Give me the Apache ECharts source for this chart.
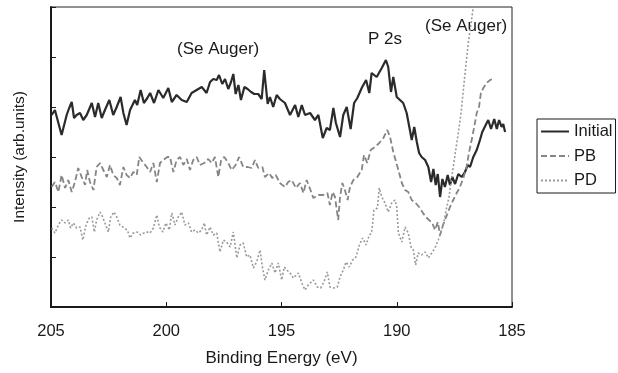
<!DOCTYPE html>
<html>
<head>
<meta charset="utf-8">
<script src="https://cdn.jsdelivr.net/npm/echarts@6/dist/echarts.min.js"></script>
<style>html,body{margin:0;padding:0;background:#fff;}#c{width:618px;height:373px;}</style>
</head>
<body>
<div id="c"></div>
<script>
// Binding energy (eV) and intensity (arb. units)
var initE = [204.97,204.83,204.54,204.32,204.21,204.10,204.00,203.89,203.74,203.60,
203.45,203.23,203.09,202.95,202.80,202.66,202.47,202.30,202.15,201.98,
201.86,201.72,201.57,201.36,201.26,201.11,200.97,200.82,200.70,200.53,
200.34,200.13,199.91,199.76,199.55,199.33,199.11,198.90,198.68,198.46,
198.25,198.10,197.96,197.81,197.71,197.57,197.45,197.31,197.19,197.09,
196.99,196.87,196.76,196.61,196.47,196.32,196.18,196.01,195.86,195.75,
195.60,195.50,195.36,195.21,195.07,194.85,194.63,194.41,194.27,194.12,
193.98,193.76,193.55,193.40,193.21,193.04,192.90,192.75,192.64,192.46,
192.32,192.17,192.00,191.85,191.71,191.52,191.33,191.19,191.09,190.87,
190.65,190.47,190.37,190.25,190.15,190.00,189.86,189.72,189.57,189.43,
189.35,189.24,189.13,189.03,188.92,188.77,188.63,188.51,188.41,188.31,
188.22,188.12,188.02,187.91,187.79,187.69,187.59,187.47,187.33,187.18,
187.04,186.92,186.82,186.68,186.53,186.39,186.29,186.14,186.03,185.91,
185.77,185.66,185.56,185.45,185.38,185.30];
var initV = [192,197,172,192,199,205,189,192,194,187,
192,204,190,204,189,197,207,192,200,210,
194,182,197,207,202,217,204,209,214,204,
217,209,219,205,212,207,205,214,217,220,
214,225,228,227,232,223,228,218,225,233,
213,222,207,220,218,215,213,213,208,237,
203,210,200,212,208,204,192,202,190,202,
192,194,187,192,169,179,177,199,184,170,
192,200,178,204,209,219,227,214,234,230,
239,247,240,215,230,210,207,204,194,177,
167,180,165,154,150,147,140,125,138,122,
133,110,128,120,132,122,130,123,133,130,
135,142,140,150,157,167,175,182,187,178,
188,178,187,180,183,175];

var pbE = [204.97,204.83,204.68,204.54,204.39,204.25,204.10,203.96,203.82,203.67,
203.52,203.43,203.31,203.16,203.02,202.87,202.73,202.58,202.44,202.30,
202.15,202.01,201.86,201.72,201.57,201.43,201.28,201.17,201.02,200.85,
200.70,200.56,200.41,200.27,200.13,199.95,199.84,199.69,199.55,199.40,
199.26,199.11,198.97,198.83,198.68,198.54,198.35,198.18,198.03,197.89,
197.74,197.62,197.48,197.31,197.16,196.99,196.84,196.66,196.47,196.29,
196.15,196.01,195.83,195.72,195.54,195.40,195.25,195.07,194.85,194.71,
194.56,194.37,194.20,194.05,193.91,193.79,193.62,193.40,193.19,193.01,
192.90,192.78,192.68,192.54,192.46,192.36,192.25,192.13,192.03,191.88,
191.71,191.52,191.42,191.28,191.13,190.94,190.76,190.58,190.41,190.29,
190.15,190.08,189.93,189.78,189.64,189.50,189.35,189.18,189.03,188.89,
188.74,188.60,188.46,188.34,188.22,188.12,188.02,187.91,187.79,187.69,
187.55,187.40,187.26,187.11,186.97,186.87,186.75,186.64,186.53,186.43,
186.35,186.24,186.10,185.95,185.81];
var pbV = [120,125,115,132,119,127,115,125,139,130,
122,137,125,117,140,144,137,130,142,132,
129,122,140,132,129,135,132,150,145,140,
135,144,125,144,147,150,150,135,147,150,
142,148,137,147,150,142,144,148,144,150,
130,147,150,144,137,142,150,140,140,139,
147,139,140,130,134,129,132,124,120,125,
127,119,124,114,127,120,109,112,112,114,
102,115,110,87,110,124,117,107,120,127,
130,137,152,144,157,160,164,169,177,170,
155,154,137,124,117,115,107,104,100,95,
90,87,84,77,85,72,80,87,94,100,
107,114,120,129,140,154,167,180,194,200,
214,219,224,227,228];

var pdE = [204.97,204.83,204.68,204.54,204.39,204.25,204.15,204.03,203.89,203.74,
203.62,203.48,203.34,203.23,203.12,203.02,202.87,202.76,202.66,202.51,
202.41,202.27,202.15,202.01,201.83,201.69,201.57,201.43,201.26,201.11,
200.97,200.82,200.70,200.56,200.41,200.30,200.15,200.01,199.87,199.76,
199.62,199.48,199.33,199.19,199.04,198.90,198.75,198.61,198.46,198.35,
198.25,198.10,197.96,197.81,197.67,197.52,197.38,197.23,197.09,196.94,
196.80,196.66,196.51,196.37,196.22,196.08,195.93,195.83,195.72,195.57,
195.42,195.28,195.14,194.99,194.88,194.77,194.63,194.49,194.27,194.12,
193.98,193.84,193.62,193.45,193.30,193.16,193.01,192.90,192.72,192.58,
192.46,192.32,192.20,192.06,191.91,191.77,191.62,191.48,191.33,191.19,
191.09,190.99,190.84,190.76,190.65,190.51,190.37,190.22,190.08,190.00,
189.93,189.78,189.64,189.50,189.38,189.28,189.18,189.07,188.92,188.77,
188.63,188.48,188.34,188.20,188.05,187.94,187.83,187.73,187.65,187.55,
187.44,187.33,187.21,187.11,187.01,186.90,186.78,186.68,186.60];
var pdV = [79,74,82,87,84,87,79,84,79,80,
67,82,89,90,75,87,95,90,84,75,
90,95,90,82,79,77,69,74,75,72,
74,75,74,79,92,80,75,84,77,94,
82,90,95,82,84,75,77,74,77,84,
72,80,72,74,55,67,65,60,75,49,
62,64,50,52,39,45,57,40,27,37,
44,34,44,27,40,37,34,29,34,24,
17,22,27,20,19,25,35,20,19,20,
30,37,45,40,47,50,62,69,62,72,
74,97,99,119,110,104,95,104,107,100,
74,65,80,74,60,57,42,54,52,55,
49,54,59,67,77,87,100,110,125,140,
157,174,194,217,240,263,283,300,317];

var seriesNames = ['Initial', 'PB', 'PD'];
var xTicks = [185, 190, 195, 200, 205];
var annotations = ['(Se Auger)', 'P 2s', '(Se Auger)'];

function pairs(xs, ys) {
  var out = [];
  var n = Math.min(xs.length, ys.length);
  for (var i = 0; i < n; i++) out.push([xs[i], ys[i]]);
  return out;
}

var FONT = '"Liberation Sans", Arial, Helvetica, sans-serif';
var chart = echarts.init(document.getElementById('c'), null, {renderer: 'canvas'});
chart.setOption({
  animation: false,
  backgroundColor: '#ffffff',
  grid: {left: 51, right: 106, top: 7, bottom: 66, show: true, borderColor: '#222', borderWidth: 1, backgroundColor: 'transparent'},
  xAxis: {
    type: 'value', inverse: true,
    min: xTicks[0], max: xTicks[xTicks.length - 1], interval: 5,
    name: 'Binding Energy (eV)', nameLocation: 'middle', nameGap: 43,
    nameTextStyle: {fontFamily: FONT, fontSize: 17, color: '#1a1a1a'},
    axisLine: {lineStyle: {color: '#1a1a1a', width: 2}},
    axisTick: {inside: true, length: 5, lineStyle: {color: '#1a1a1a', width: 1}},
    axisLabel: {margin: 16, fontFamily: FONT, fontSize: 16.5, color: '#1a1a1a'},
    splitLine: {show: false}
  },
  yAxis: {
    type: 'value', min: 0, max: 300, interval: 50,
    name: 'Intensity (arb.units)', nameLocation: 'middle', nameGap: 23, nameRotate: 90,
    nameTextStyle: {fontFamily: FONT, fontSize: 15.5, color: '#1a1a1a'},
    axisLine: {show: true, lineStyle: {color: '#1a1a1a', width: 2}},
    axisTick: {show: true, inside: true, length: 5, lineStyle: {color: '#1a1a1a', width: 1}},
    axisLabel: {show: false},
    splitLine: {show: false}
  },
  legend: {
    show: true,
    orient: 'vertical', left: 537, top: 119,
    padding: [4, 3, 4, 3], itemGap: 7.5, itemWidth: 28, itemHeight: 14,
    borderColor: '#1a1a1a', borderWidth: 1, backgroundColor: '#fff',
    itemStyle: {opacity: 0},
    textStyle: {fontFamily: FONT, fontSize: 16.5, color: '#1a1a1a'},
    data: seriesNames
  },
  series: [
    {name: seriesNames[0], type: 'line', data: pairs(initE, initV), symbol: 'none', clip: true,
     lineStyle: {color: '#2b2b2b', width: 2.2}, itemStyle: {color: '#2b2b2b'}},
    {name: seriesNames[1], type: 'line', data: pairs(pbE, pbV), symbol: 'none', clip: true,
     lineStyle: {color: '#858585', width: 1.8, type: [6, 3]}, itemStyle: {color: '#858585'}},
    {name: seriesNames[2], type: 'line', data: pairs(pdE, pdV), symbol: 'none', clip: true,
     lineStyle: {color: '#9a9a9a', width: 1.6, type: [2, 2]}, itemStyle: {color: '#9a9a9a'}}
  ],
  graphic: [
    {type: 'text', left: 177, top: 41, style: {text: annotations[0], font: '17px ' + FONT, fill: '#1a1a1a'}},
    {type: 'text', left: 368, top: 31, style: {text: annotations[1], font: '17px ' + FONT, fill: '#1a1a1a'}},
    {type: 'text', left: 425, top: 18, style: {text: annotations[2], font: '17px ' + FONT, fill: '#1a1a1a'}}
  ]
});
</script>
</body>
</html>
